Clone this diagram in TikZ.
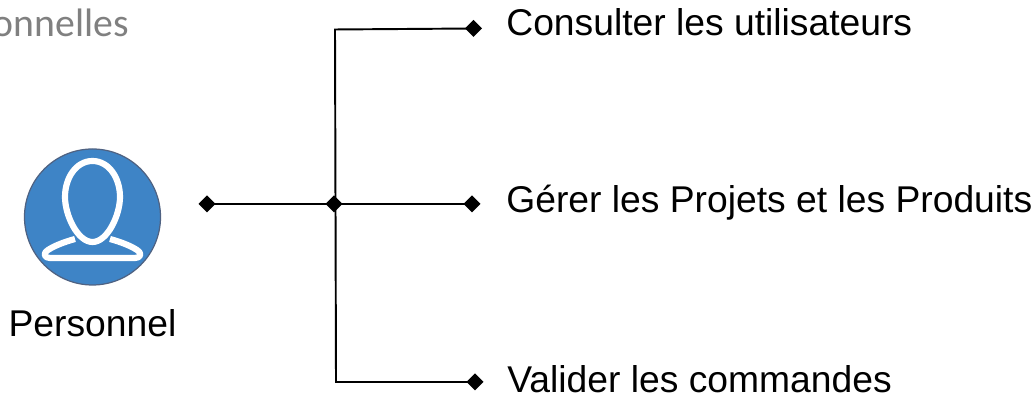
\documentclass[tikz,border=0pt]{standalone}
\usepackage{fontspec}
\setmainfont{Liberation Sans}
\newfontfamily\titrefont{Carlito}
\usetikzlibrary{shapes.geometric}
\definecolor{acteurbleu}{HTML}{3E84C6}
\definecolor{acteurtrait}{HTML}{4F6282}

\begin{document}
\begin{tikzpicture}[
    losange/.style={diamond, fill=black, inner sep=0pt, outer sep=0pt, minimum size=0.34cm},
    edge/.style={line width=1.1pt, -},
    label/.style={anchor=base west, inner sep=0pt, font=\fontsize{21.2pt}{25pt}\selectfont},
    acteur/.style={circle, draw=acteurtrait, line width=0.7pt, fill=acteurbleu,
        minimum size=2.72cm, inner sep=0pt},
    silhouette/.style={draw=white, line width=3.5pt, line join=round}
]
    \useasboundingbox (0,0) rectangle (20.72,7.98);
    \node[anchor=base east, inner sep=0pt, text=black!50, font=\titrefont\fontsize{22.6pt}{27pt}\selectfont] (titre) at (2.58,7.24) {onnelles};
    \node[acteur] (personnel) at (1.85,3.64) {};
    \draw[silhouette] (1.85,4.76) .. controls (2.18,4.76) and (2.40,4.42) .. (2.40,4.04)
        .. controls (2.40,3.68) and (2.15,3.14) .. (1.85,3.14)
        .. controls (1.55,3.14) and (1.30,3.68) .. (1.30,4.04)
        .. controls (1.30,4.42) and (1.52,4.76) .. (1.85,4.76) -- cycle;
    \draw[silhouette] (1.50,3.20) .. controls (1.28,3.14) and (1.08,3.06) .. (0.96,2.98)
        .. controls (0.84,2.90) and (0.90,2.82) .. (1.00,2.82) -- (2.70,2.82)
        .. controls (2.80,2.82) and (2.86,2.90) .. (2.74,2.98)
        .. controls (2.62,3.06) and (2.42,3.14) .. (2.20,3.20);
    \node[label, anchor=base] (nom) at (1.85,1.24) {Personnel};
    \node[losange] (depart) at (4.14,3.90) {};
    \node[losange] (centre) at (6.68,3.90) {};
    \node[losange] (lconsulter) at (9.47,7.41) {};
    \node[losange] (lgerer) at (9.44,3.90) {};
    \node[losange] (lvalider) at (9.50,0.34) {};
    \coordinate (haut) at (6.70,7.39);
    \coordinate (bas) at (6.72,0.34);
    \node[label] (consulter) at (10.12,7.26) {Consulter les utilisateurs};
    \node[label] (gerer) at (10.12,3.72) {Gérer les Projets et les Produits};
    \node[label] (valider) at (10.14,0.12) {Valider les commandes};
    \draw[edge] (depart.center) -- (centre.center);
    \draw[edge] (centre.center) -- (lgerer.center);
    \draw[edge] (lconsulter.center) -- (haut) -- (bas) -- (lvalider.center);
\end{tikzpicture}
\end{document}
